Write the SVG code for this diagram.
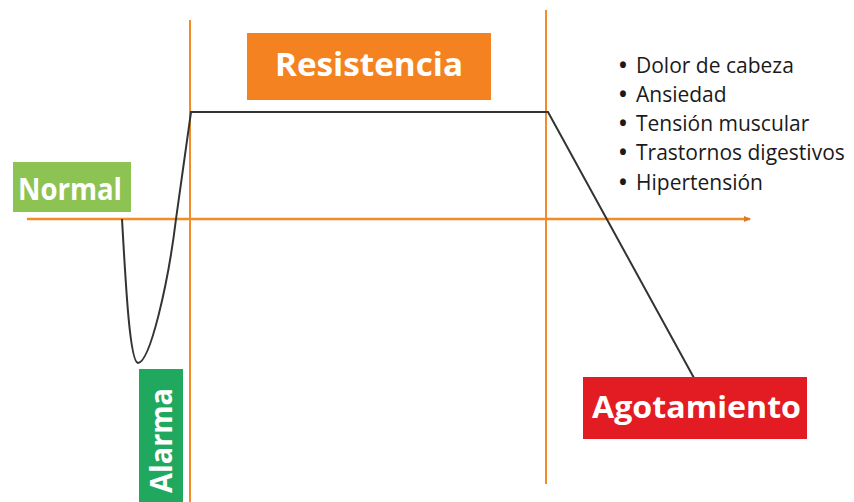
<svg xmlns="http://www.w3.org/2000/svg" width="854" height="502" viewBox="0 0 854 502">
<style>
.ax{stroke:#F28C28;fill:none}
.lbl{font-family:"Open Sans","Liberation Sans",sans-serif;font-weight:bold;fill:#fff}
.li{font-family:"Open Sans","Liberation Sans",sans-serif;font-size:21px;fill:#1a1a1a}
.bu{font-weight:bold}
</style>
<defs>
<marker id="ah" markerWidth="8" markerHeight="8" refX="6" refY="4" orient="auto" markerUnits="userSpaceOnUse">
<path d="M0,1 L7,4 L0,7 z" fill="#E07A20"/>
</marker>
</defs>
<rect width="854" height="502" fill="#fff"/>
<g id="connectors">
<line class="ax" x1="27" y1="219" x2="750" y2="219" stroke-width="2.5" marker-end="url(#ah)"/>
<line class="ax" x1="190" y1="20" x2="190" y2="502" stroke-width="2"/>
<line class="ax" x1="546" y1="10" x2="546" y2="484" stroke-width="2"/>
<path d="M122,219 C126,290 130,362 138,363 C150,362 168,285 176,219 L191,112 L548,112 L694,378" fill="none" stroke="#333" stroke-width="2"/>
</g>
<g id="normal">
<rect x="13" y="162" width="118" height="50" fill="#8DC353"/>
<text class="lbl" x="18" y="200" font-size="30" textLength="104" lengthAdjust="spacingAndGlyphs">Normal</text>
</g>
<g id="alarma">
<rect x="139" y="369" width="44" height="133" fill="#1FA85E"/>
<text class="lbl" transform="translate(172,493) rotate(-90)" font-size="30" textLength="105" lengthAdjust="spacingAndGlyphs">Alarma</text>
</g>
<g id="resistencia">
<rect x="247" y="33" width="244" height="67" fill="#F58220"/>
<text class="lbl" x="275" y="76" font-size="32" textLength="188" lengthAdjust="spacingAndGlyphs">Resistencia</text>
</g>
<g id="agotamiento">
<rect x="583" y="377" width="224" height="62" fill="#E31B23"/>
<text class="lbl" x="592" y="418" font-size="31" textLength="209" lengthAdjust="spacingAndGlyphs">Agotamiento</text>
</g>
<g id="sintomas">
<text class="li" y="73"><tspan class="bu" x="619">•</tspan><tspan x="636">Dolor de cabeza</tspan></text>
<text class="li" y="102"><tspan class="bu" x="619">•</tspan><tspan x="636">Ansiedad</tspan></text>
<text class="li" y="131"><tspan class="bu" x="619">•</tspan><tspan x="636">Tensión muscular</tspan></text>
<text class="li" y="160"><tspan class="bu" x="619">•</tspan><tspan x="636">Trastornos digestivos</tspan></text>
<text class="li" y="190"><tspan class="bu" x="619">•</tspan><tspan x="636">Hipertensión</tspan></text>
</g>
</svg>
